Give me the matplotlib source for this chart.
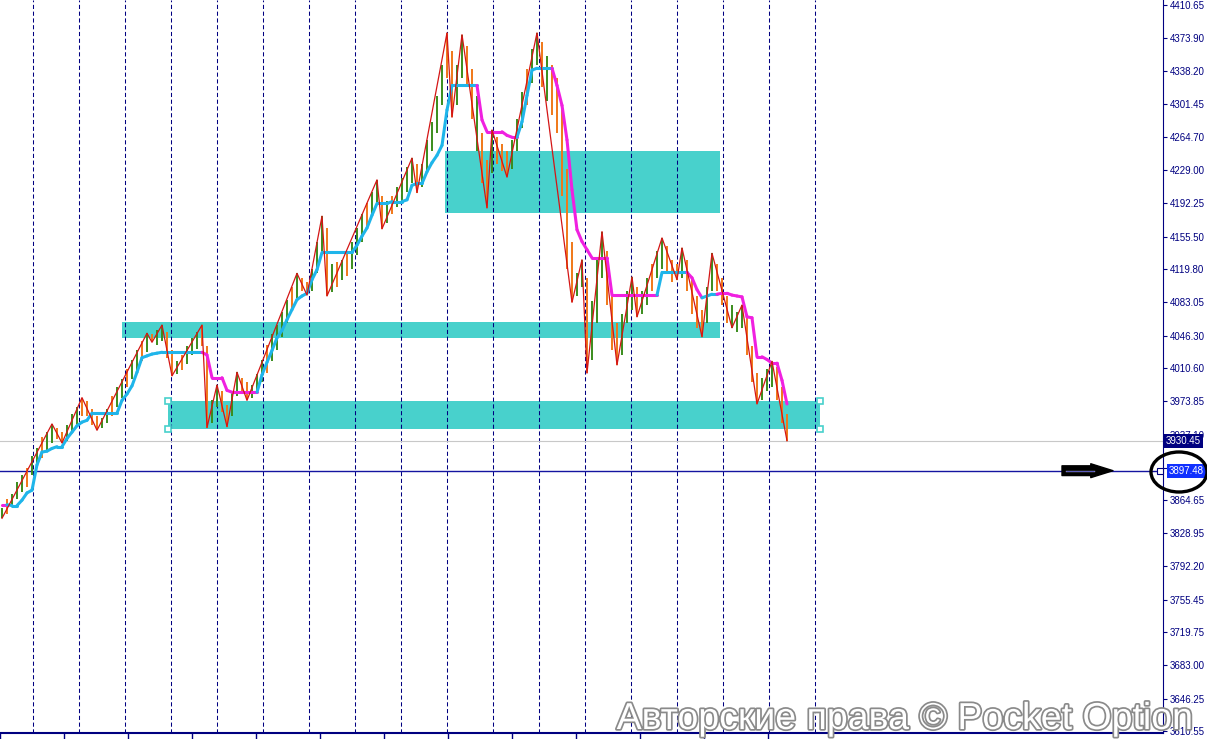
import matplotlib
matplotlib.use("Agg")
import matplotlib.pyplot as plt
import matplotlib.patheffects as pe
from matplotlib.collections import LineCollection
from matplotlib.patches import Rectangle, Ellipse

plt.rcParams['font.family'] = ['Liberation Sans', 'DejaVu Sans']

# бары: максимум / минимум, по одному на период
bar_high = [3856, 3866, 3872, 3885, 3893, 3900, 3914, 3922, 3935, 3940,
            3949, 3945, 3940, 3948, 3960, 3968, 3978, 3974, 3965, 3958,
            3956, 3966, 3980, 3990, 3998, 4010, 4020, 4030, 4040, 4049,
            4048, 4052, 4058, 4050, 4030, 4018, 4025, 4035, 4044, 4050,
            4058, 4035, 3975, 3992, 3985, 3970, 3985, 4006, 4000, 3995,
            3992, 4004, 4020, 4036, 4048, 4058, 4072, 4086, 4100, 4115,
            4110, 4105, 4120, 4150, 4178, 4165, 4125, 4128, 4130, 4140,
            4150, 4165, 4180, 4192, 4205, 4218, 4200, 4195, 4200, 4210,
            4220, 4232, 4242, 4235, 4235, 4262, 4282, 4310, 4345, 4380,
            4360, 4345, 4378, 4365, 4340, 4310, 4270, 4240, 4273, 4265,
            4258, 4250, 4262, 4285, 4315, 4340, 4362, 4380, 4370, 4355,
            4345, 4330, 4300, 4230, 4150, 4115, 4130, 4110, 4085, 4130,
            4161, 4140, 4090, 4060, 4070, 4095, 4111, 4100, 4095, 4110,
            4125, 4140, 4154, 4145, 4130, 4125, 4143, 4130, 4110, 4090,
            4075, 4100, 4137, 4125, 4110, 4090, 4080, 4072, 4080, 4070,
            4035, 4005, 4000, 4010, 4018, 4012, 3990, 3960]
bar_low = [3845, 3850, 3858, 3866, 3874, 3880, 3893, 3902, 3912, 3920,
           3928, 3932, 3928, 3930, 3940, 3948, 3958, 3958, 3948, 3942,
           3944, 3950, 3958, 3968, 3978, 3990, 3998, 4008, 4018, 4028,
           4039, 4036, 4040, 4022, 4002, 4004, 4008, 4015, 4025, 4032,
           4035, 3945, 3950, 3968, 3962, 3946, 3958, 3980, 3985, 3975,
           3978, 3984, 3995, 4005, 4018, 4030, 4045, 4060, 4075, 4088,
           4095, 4091, 4095, 4115, 4140, 4090, 4094, 4100, 4108, 4112,
           4120, 4135, 4150, 4165, 4178, 4190, 4164, 4170, 4180, 4188,
           4195, 4205, 4215, 4204, 4210, 4228, 4250, 4270, 4300, 4330,
           4287, 4300, 4330, 4320, 4285, 4250, 4215, 4187, 4225, 4235,
           4228, 4221, 4230, 4250, 4275, 4300, 4325, 4345, 4320, 4305,
           4290, 4270, 4200, 4120, 4083, 4090, 4100, 4005, 4020, 4060,
           4110, 4080, 4030, 4014, 4025, 4060, 4075, 4067, 4070, 4080,
           4095, 4110, 4120, 4115, 4105, 4108, 4110, 4095, 4070, 4055,
           4045, 4060, 4095, 4095, 4080, 4060, 4055, 4050, 4055, 4025,
           3995, 3971, 3975, 3985, 3990, 3975, 3950, 3930.45]
# g = растущий бар, o = падающий
bar_dir = ("gogggoggogg" "oo" "gggo" "ooo" "ggoggoggog" "ogg" "oo" "gogggo"
           "o" "gg" "oo" "gg" "oo" "gggoggggog" "oo" "ggg" "o" "gogogggogg"
           "o" "gogggg" "o" "gggggo" "o" "gg" "oogoo" "g" "ooo" "gggogg"
           "ogooooo" "gg" "o" "ggg" "ooo" "ggg" "o" "ggogg" "ooo" "g" "oooo"
           "gg" "ooog" "gg" "ooo" "ggg" "ooo")

# трейлинг-линия индикатора, c = голубая (ниже цены), m = розовая (выше)
trail = [3860, 3860, 3859, 3859, 3865, 3873, 3876, 3904, 3918, 3919,
         3922, 3924, 3924, 3933, 3940, 3947, 3951, 3953, 3961, 3961,
         3961, 3961, 3961, 3961, 3975, 3982, 3991, 4006, 4022, 4024,
         4026, 4027, 4028, 4028, 4028, 4028, 4028, 4028, 4028, 4028,
         4028, 4025, 4000, 4000, 4000, 3986, 3984, 3984, 3984, 3984,
         3984, 3984, 4003, 4017, 4030, 4044, 4052, 4064, 4075, 4086,
         4090, 4093, 4108, 4119, 4138, 4138, 4138, 4138, 4138, 4138,
         4138, 4146, 4156, 4165, 4179, 4192, 4192, 4192, 4194, 4194,
         4194, 4196, 4212, 4214, 4214, 4227, 4237, 4245, 4256, 4295,
         4322, 4322, 4322, 4322, 4322, 4322, 4284, 4271, 4271, 4271,
         4271, 4267, 4265, 4265, 4282, 4311, 4339, 4341, 4341, 4341,
         4341, 4322, 4300, 4262, 4207, 4163, 4150, 4141, 4132, 4132,
         4132, 4132, 4091, 4091, 4091, 4091, 4091, 4091, 4091, 4091,
         4091, 4091, 4116, 4116, 4116, 4116, 4116, 4116, 4110, 4097,
         4088, 4090, 4092, 4092, 4093, 4093, 4091, 4090, 4089, 4067,
         4066, 4023, 4023, 4020, 4016, 4016, 3997, 3971]
trail_dir = ("m" * 2 + "c" * 39 + "m" * 11 + "c" * 44 + "m" * 8 + "c" * 7
             + "m" * 21 + "c" * 6 + "m" * 3 + "c" * 3 + "m" * 14)

# зигзаг
zz_idx = [0, 10, 12, 16, 19, 29, 30, 32, 34, 40, 41, 43, 45, 47, 49, 59,
          61, 64, 65, 75, 76, 82, 83, 89, 90, 92, 97, 98, 101, 107, 114,
          116, 117, 120, 123, 126, 127, 132, 135, 136, 140, 142, 146, 148,
          151, 154, 157]
zz_price = [3845, 3949, 3928, 3978, 3942, 4049, 4039, 4058, 4002, 4058,
            3945, 3992, 3946, 4006, 3975, 4115, 4091, 4178, 4090, 4218,
            4164, 4242, 4204, 4380, 4287, 4378, 4187, 4273, 4221, 4380,
            4083, 4130, 4005, 4161, 4014, 4111, 4067, 4154, 4108, 4143,
            4045, 4137, 4055, 4080, 3971, 4018, 3930.45]

# зоны (в барах / ценах)
zone_start = [88.6, 24.0, 33.2]
zone_end = [143.6, 143.6, 163.6]
zone_low = [4181.5, 4043.7, 3943.4]
zone_high = [4249.8, 4061.4, 3974.3]

price_ticks = [4410.65, 4373.90, 4338.20, 4301.45, 4264.70, 4229.00, 4192.25,
               4155.50, 4119.80, 4083.05, 4046.30, 4010.60, 3973.85, 3937.10,
               3900.35, 3864.65, 3828.95, 3792.20, 3755.45, 3719.75, 3683.00,
               3646.25, 3610.55]
price_now = 3930.45
price_level = 3897.48

W, H = 1207, 739
PLOT_W, PLOT_B = 1163, 6
BAR_PX, BAR0_PX = 5, 2
NAVY = '#000080'
ZONE = '#48d1cc'


def px2bar(px):
    return (px - BAR0_PX) / BAR_PX


fig = plt.figure(figsize=(W / 100, H / 100), dpi=100)
ax = fig.add_axes([0, PLOT_B / H, PLOT_W / W, 1 - PLOT_B / H])
ax.set_xlim(px2bar(0), px2bar(PLOT_W))
ax.set_ylim(3608.4, 4416.2)

# зоны
for s, e, lo, hi in zip(zone_start, zone_end, zone_low, zone_high):
    ax.add_patch(Rectangle((s, lo), e - s, hi - lo, fc=ZONE, ec='none', zorder=1))
ax.plot([zone_start[2], zone_start[2], zone_end[2], zone_end[2]],
        [zone_high[2], zone_low[2], zone_high[2], zone_low[2]],
        ls='none', marker='s', ms=4, mfc='white', mec=ZONE, mew=1.2, zorder=6)

# вертикальная сетка
for k in range(18):
    ax.axvline(px2bar(32.5 + 46 * k), color=NAVY, lw=0.75, ls=(0, (4, 2.5)), zorder=2)

ax.axhline(price_now, color='#c8c8c8', lw=0.8, zorder=2)
ax.axhline(price_level, color='#1414a0', lw=1.0, zorder=2)

# бары
n = len(bar_high)
cols = ['#3a8c1c' if d == 'g' else '#f07818' for d in bar_dir]
ax.vlines(range(n), bar_low, bar_high, colors=cols, lw=1.4, zorder=3)

# трейлинг
segs = [[(i, trail[i]), (i + 1, trail[i + 1])] for i in range(n - 1)]
seg_cols = ['#1fb5ea' if trail_dir[i + 1] == 'c' else '#f020e0' for i in range(n - 1)]
ax.add_collection(LineCollection(segs, colors=seg_cols, lw=2.2, capstyle='round', zorder=4))

ax.plot(zz_idx, zz_price, color='#d41515', lw=0.9, zorder=5)

# оси
for side in ['top', 'left']:
    ax.spines[side].set_visible(False)
ax.spines['right'].set_color(NAVY)
ax.spines['bottom'].set_color(NAVY)
ax.spines['bottom'].set_linewidth(1.5)
ax.yaxis.tick_right()
ax.set_yticks(price_ticks)
ax.set_yticklabels([f'{v:.2f}' for v in price_ticks])
ax.tick_params(axis='y', direction='out', length=3, width=0.8, colors=NAVY,
               labelsize=7, pad=2)
ax.set_xticks([px2bar(64 * k) for k in range(13)])
ax.tick_params(axis='x', direction='out', length=5, width=1, color=NAVY,
               labelbottom=False)

# метки цены справа
ytr = ax.get_yaxis_transform()
ax.text(1 + 3 / PLOT_W, price_now, f'{price_now:.2f}', transform=ytr, color='white',
        fontsize=7, va='center', ha='left', zorder=10, clip_on=False,
        bbox=dict(boxstyle='square,pad=0.2', fc=NAVY, ec='none'))
ax.text(1 + 6 / PLOT_W, price_level, f'{price_level:.2f}', transform=ytr, color='white',
        fontsize=7, va='center', ha='left', zorder=10, clip_on=False,
        bbox=dict(boxstyle='square,pad=0.2', fc='#1030ff', ec='none'))
ax.plot([1 - 3 / PLOT_W], [price_level], transform=ytr, marker='s', ms=4,
        mfc='white', mec=NAVY, mew=0.8, clip_on=False, zorder=11)

# стрелка и круг
ax.annotate('', xy=(px2bar(1113), price_level), xytext=(px2bar(1062), price_level),
            arrowprops=dict(arrowstyle='simple,head_length=1.6,head_width=1.0,tail_width=0.7',
                            fc='black', ec='black', mutation_scale=10,
                            shrinkA=0, shrinkB=0), zorder=6)
ax.plot([px2bar(1066), px2bar(1094)], [price_level] * 2, color='white', lw=0.9, zorder=7)
ax.plot([px2bar(1066), px2bar(1094)], [price_level] * 2, color='#1414a0', lw=0.5, zorder=8)
fig.add_artist(Ellipse((1179 / W, 1 - 472 / H), 56 / W, 40 / H, transform=fig.transFigure,
                       fill=False, ec='black', lw=2.4, zorder=12))

fig.text(905 / W, 1 - 729 / H, 'Авторские права © Pocket Option', fontsize=27,
         color='white', ha='center', va='baseline', zorder=20,
         path_effects=[pe.withStroke(linewidth=2.5, foreground='#8a8a8a')])

fig.savefig('out.png', dpi=100)
